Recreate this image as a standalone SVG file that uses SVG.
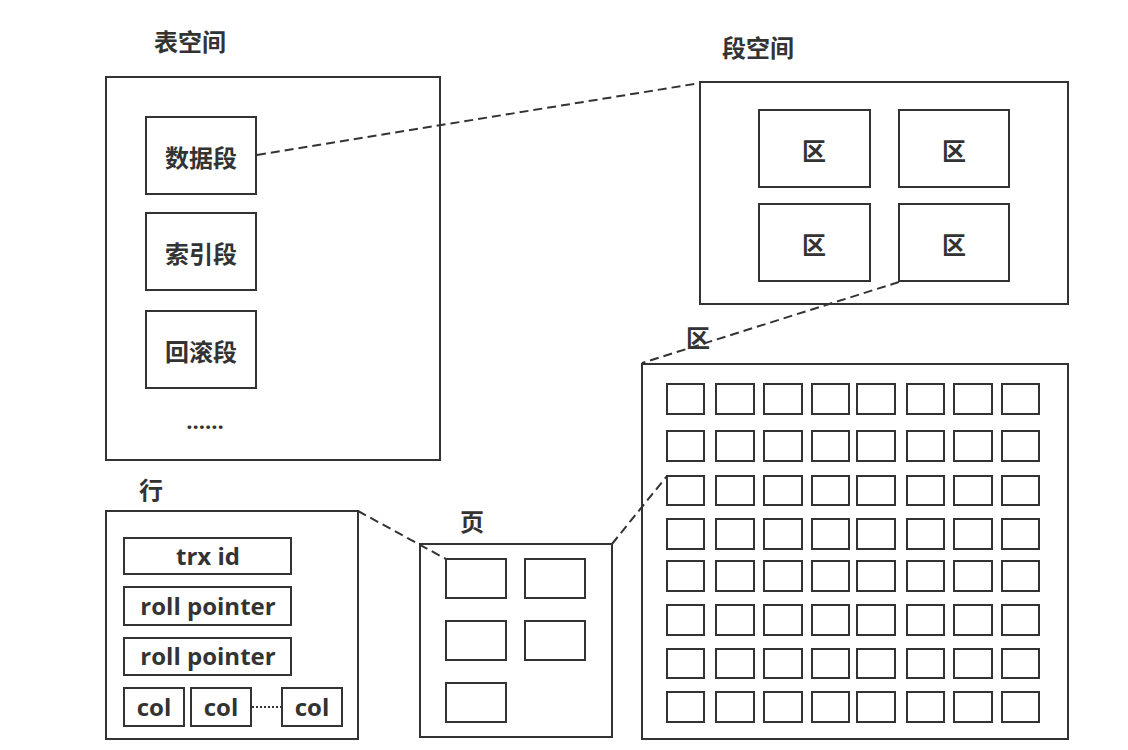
<svg xmlns="http://www.w3.org/2000/svg" width="1128" height="750" viewBox="0 0 1128 750">
<style>
.box{fill:#fff;stroke:#333;stroke-width:2}
.cell{fill:#fff;stroke:#333;stroke-width:2}
.t{font-family:"Noto Sans CJK SC","Noto Sans",sans-serif;font-weight:bold;fill:#333;text-anchor:middle;dominant-baseline:central}
.big{font-size:24px}
.lat{font-family:"Open Sans","Noto Sans",sans-serif;font-weight:bold;fill:#333;text-anchor:middle;dominant-baseline:central;font-size:24px}
.dash{fill:none;stroke:#333;stroke-width:2;stroke-dasharray:9 5}
</style>
<rect width="1128" height="750" fill="#fff"/>

<g id="tablespace">
<text class="t big" x="190" y="40">表空间</text>
<rect class="box" x="106" y="77" width="334" height="383"/>
<g id="data-seg"><rect class="box" x="146" y="117" width="110" height="77"/><text class="t big" x="201" y="156">数据段</text></g>
<g id="index-seg"><rect class="box" x="146" y="213" width="110" height="77"/><text class="t big" x="201" y="252">索引段</text></g>
<g id="rollback-seg"><rect class="box" x="146" y="311" width="110" height="77"/><text class="t big" x="201" y="350">回滚段</text></g>
<text class="lat" x="205" y="420" style="font-size:22px">......</text>
</g>

<g id="segment-space">
<text class="t big" x="758" y="46">段空间</text>
<rect class="box" x="700" y="82" width="368" height="222"/>
<g id="ext1"><rect class="box" x="759" y="110" width="111" height="77"/><text class="t big" x="814" y="149">区</text></g>
<g id="ext2"><rect class="box" x="899" y="110" width="110" height="77"/><text class="t big" x="954" y="149">区</text></g>
<g id="ext3"><rect class="box" x="759" y="204" width="111" height="77"/><text class="t big" x="814" y="243">区</text></g>
<g id="ext4"><rect class="box" x="899" y="204" width="110" height="77"/><text class="t big" x="954" y="243">区</text></g>
</g>

<g id="extent">
<text class="t big" x="698" y="336">区</text>
<rect class="box" x="642" y="364" width="426" height="375"/>
<g id="pages">
<g transform="translate(0,384)">
<rect class="cell" x="667" width="37" height="30"/><rect class="cell" x="716" width="38" height="30"/><rect class="cell" x="764" width="38" height="30"/><rect class="cell" x="812" width="37" height="30"/><rect class="cell" x="857" width="38" height="30"/><rect class="cell" x="907" width="37" height="30"/><rect class="cell" x="954" width="38" height="30"/><rect class="cell" x="1002" width="37" height="30"/>
</g>
<g transform="translate(0,431)">
<rect class="cell" x="667" width="37" height="30"/><rect class="cell" x="716" width="38" height="30"/><rect class="cell" x="764" width="38" height="30"/><rect class="cell" x="812" width="37" height="30"/><rect class="cell" x="857" width="38" height="30"/><rect class="cell" x="907" width="37" height="30"/><rect class="cell" x="954" width="38" height="30"/><rect class="cell" x="1002" width="37" height="30"/>
</g>
<g transform="translate(0,476)">
<rect class="cell" x="667" width="37" height="29"/><rect class="cell" x="716" width="38" height="29"/><rect class="cell" x="764" width="38" height="29"/><rect class="cell" x="812" width="37" height="29"/><rect class="cell" x="857" width="38" height="29"/><rect class="cell" x="907" width="37" height="29"/><rect class="cell" x="954" width="38" height="29"/><rect class="cell" x="1002" width="37" height="29"/>
</g>
<g transform="translate(0,519)">
<rect class="cell" x="667" width="37" height="30"/><rect class="cell" x="716" width="38" height="30"/><rect class="cell" x="764" width="38" height="30"/><rect class="cell" x="812" width="37" height="30"/><rect class="cell" x="857" width="38" height="30"/><rect class="cell" x="907" width="37" height="30"/><rect class="cell" x="954" width="38" height="30"/><rect class="cell" x="1002" width="37" height="30"/>
</g>
<g transform="translate(0,561)">
<rect class="cell" x="667" width="37" height="30"/><rect class="cell" x="716" width="38" height="30"/><rect class="cell" x="764" width="38" height="30"/><rect class="cell" x="812" width="37" height="30"/><rect class="cell" x="857" width="38" height="30"/><rect class="cell" x="907" width="37" height="30"/><rect class="cell" x="954" width="38" height="30"/><rect class="cell" x="1002" width="37" height="30"/>
</g>
<g transform="translate(0,605)">
<rect class="cell" x="667" width="37" height="30"/><rect class="cell" x="716" width="38" height="30"/><rect class="cell" x="764" width="38" height="30"/><rect class="cell" x="812" width="37" height="30"/><rect class="cell" x="857" width="38" height="30"/><rect class="cell" x="907" width="37" height="30"/><rect class="cell" x="954" width="38" height="30"/><rect class="cell" x="1002" width="37" height="30"/>
</g>
<g transform="translate(0,649)">
<rect class="cell" x="667" width="37" height="29"/><rect class="cell" x="716" width="38" height="29"/><rect class="cell" x="764" width="38" height="29"/><rect class="cell" x="812" width="37" height="29"/><rect class="cell" x="857" width="38" height="29"/><rect class="cell" x="907" width="37" height="29"/><rect class="cell" x="954" width="38" height="29"/><rect class="cell" x="1002" width="37" height="29"/>
</g>
<g transform="translate(0,692)">
<rect class="cell" x="667" width="37" height="30"/><rect class="cell" x="716" width="38" height="30"/><rect class="cell" x="764" width="38" height="30"/><rect class="cell" x="812" width="37" height="30"/><rect class="cell" x="857" width="38" height="30"/><rect class="cell" x="907" width="37" height="30"/><rect class="cell" x="954" width="38" height="30"/><rect class="cell" x="1002" width="37" height="30"/>
</g>
</g>
</g>

<g id="page">
<text class="t big" x="472" y="520">页</text>
<rect class="box" x="420" y="544" width="192" height="193"/>
<rect class="cell" x="446" y="559" width="60" height="39"/>
<rect class="cell" x="525" y="559" width="60" height="39"/>
<rect class="cell" x="446" y="621" width="60" height="39"/>
<rect class="cell" x="525" y="621" width="60" height="39"/>
<rect class="cell" x="446" y="683" width="60" height="39"/>
</g>

<g id="row">
<text class="t big" x="151" y="488">行</text>
<rect class="box" x="106" y="511" width="252" height="228"/>
<g id="trx-id"><rect class="box" x="124" y="538" width="167" height="36"/><text class="lat" x="208" y="555">trx id</text></g>
<g id="roll-pointer-1"><rect class="box" x="124" y="587" width="167" height="38"/><text class="lat" x="208" y="605">roll pointer</text></g>
<g id="roll-pointer-2"><rect class="box" x="124" y="638" width="167" height="37"/><text class="lat" x="208" y="655">roll pointer</text></g>
<g id="col1"><rect class="box" x="124" y="688" width="60" height="38"/><text class="lat" x="154" y="706">col</text></g>
<g id="col2"><rect class="box" x="191" y="688" width="60" height="38"/><text class="lat" x="221" y="706">col</text></g>
<g id="col3"><rect class="box" x="282" y="688" width="60" height="38"/><text class="lat" x="312" y="706">col</text></g>
<line x1="252" y1="707" x2="281" y2="707" stroke="#333" stroke-width="2" stroke-dasharray="2 2"/>
</g>

<g id="connectors">
<line class="dash" x1="257" y1="155" x2="700" y2="83"/>
<line class="dash" x1="899" y1="282" x2="642" y2="363"/>
<line class="dash" x1="612" y1="544" x2="667" y2="476"/>
<line class="dash" x1="358" y1="511" x2="446" y2="559"/>
</g>
</svg>
